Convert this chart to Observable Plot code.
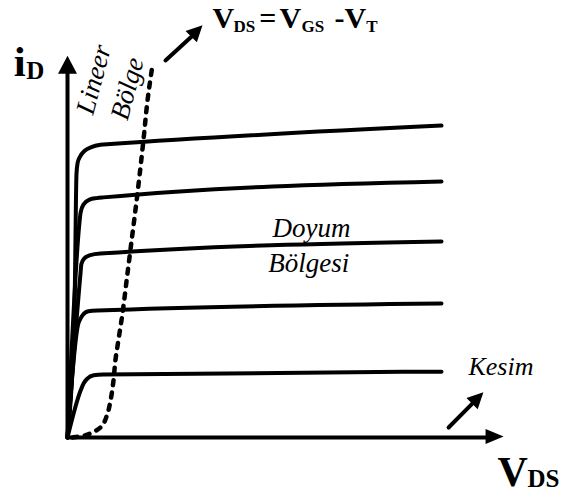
<!DOCTYPE html>
<html>
<head>
<meta charset="utf-8">
<script src="https://cdn.jsdelivr.net/npm/d3@7"></script>
<script src="https://cdn.jsdelivr.net/npm/@observablehq/plot@0.6"></script>
<style>
  html, body { margin: 0; padding: 0; background: #fff; }
</style>
</head>
<body>
<script>
// Output characteristic curves i_D vs V_DS (arbitrary units)
const curve1 = [[0,0],[0.19,3.70],[0.24,7.12],[0.27,7.42],[0.34,7.60],[0.46,7.75],[0.64,7.85],[0.88,7.91],[1.15,7.93],[10,8.43]];
const curve2 = [[0,0],[0.32,5.81],[0.35,6.08],[0.43,6.30],[0.59,6.43],[0.78,6.47],[0.96,6.49],[10,6.92]];
const curve3 = [[0,0],[0.35,4.46],[0.37,4.68],[0.45,4.84],[0.61,4.93],[0.88,4.97],[10,5.30]];
const curve4 = [[0,0],[0.29,3.08],[0.35,3.22],[0.40,3.30],[0.56,3.41],[0.80,3.43],[10,3.62]];
const curve5 = [[0,0],[0.35,1.27],[0.43,1.46],[0.53,1.59],[0.70,1.68],[0.96,1.70],[10,1.78]];
// Boundary V_DS = V_GS - V_T (dashed)
const boundary = [[0.13,0],[0.43,0.05],[0.67,0.14],[0.88,0.27],[1.07,0.65],[1.15,1.0],[1.23,1.54],[1.28,2.08],[1.36,2.62],[1.47,3.35],[1.58,4.24],[1.68,5.05],[1.87,6.59],[2.03,8.03],[2.14,9.11],[2.27,10.05]];
// Axes
const yAxisLine = [[0,0],[0,9.9]];
const xAxisLine = [[0,0],[11.25,0]];
const yAxisTip = [[0,10.32]];
const xAxisTip = [[11.66,0.03]];
// Pointer arrows
const topArrow = [[2.62,10.19],[3.32,10.84]];
const topArrowTip = [[3.61,11.14]];
const cutArrow = [[10.19,0.27],[10.83,0.92]];
const cutArrowTip = [[11.12,1.22]];

const curves = [curve1, curve2, curve3, curve4, curve5];

function poly(pts) {
  return { draw(ctx) { ctx.moveTo(pts[0][0], pts[0][1]); for (let i = 1; i < pts.length; i++) ctx.lineTo(pts[i][0], pts[i][1]); ctx.closePath(); } };
}
const headUp = poly([[0,0],[9.5,18],[-9.5,18]]);
const headRight = poly([[0,0],[-18,-7.5],[-18,7.5]]);
const headDiag = poly([[0,0],[-5.66,16.97],[-16.97,5.66]]);

const serif = "Liberation Serif, Times New Roman, serif";
const T = (data, opts) => Plot.text(data, {x: d => d[0], y: d => d[1], fontFamily: serif, fill: "black", lineAnchor: "bottom", textAnchor: "start", ...opts});

const plot = Plot.plot({
  width: 563,
  height: 500,
  margin: 0,
  style: { background: "#fff" },
  x: { domain: [0, 10], range: [67, 441], axis: null },
  y: { domain: [0, 10], range: [437, 67], axis: null },
  marks: [
    ...curves.map(c => Plot.line(c, { curve: "monotone-x", stroke: "black", strokeWidth: 4, strokeLinejoin: "round" })),
    Plot.line(boundary, { curve: "monotone-y", stroke: "black", strokeWidth: 4.5, strokeDasharray: "5,7.5", strokeLinecap: "round" }),
    Plot.line(yAxisLine, { stroke: "black", strokeWidth: 4 }),
    Plot.line(xAxisLine, { stroke: "black", strokeWidth: 4 }),
    Plot.dot(yAxisTip, { x: d => d[0], y: d => d[1], symbol: headUp, fill: "black", stroke: null }),
    Plot.dot(xAxisTip, { x: d => d[0], y: d => d[1], symbol: headRight, fill: "black", stroke: null }),
    Plot.line(topArrow, { stroke: "black", strokeWidth: 4, strokeLinecap: "round" }),
    Plot.dot(topArrowTip, { x: d => d[0], y: d => d[1], symbol: headDiag, fill: "black", stroke: null }),
    Plot.line(cutArrow, { stroke: "black", strokeWidth: 4, strokeLinecap: "round" }),
    Plot.dot(cutArrowTip, { x: d => d[0], y: d => d[1], symbol: headDiag, fill: "black", stroke: null }),
    // axis labels
    T([[-1.44, 9.78]], { text: () => "i", fontSize: 43, fontWeight: "bold" }),
    T([[-1.10, 9.70]], { text: () => "D", fontSize: 25, fontWeight: "bold" }),
    T([[11.50, -1.30]], { text: () => "V", fontSize: 42, fontWeight: "bold" }),
    T([[12.30, -1.35]], { text: () => "DS", fontSize: 25, fontWeight: "bold" }),
    // top formula
    T([[3.88, 11.08]], { text: () => "V", fontSize: 30, fontWeight: "bold" }),
    T([[4.44, 10.97]], { text: () => "DS", fontSize: 17, fontWeight: "bold" }),
    T([[5.13, 11.08]], { text: () => "=", fontSize: 30, fontWeight: "bold" }),
    T([[5.67, 11.08]], { text: () => "V", fontSize: 30, fontWeight: "bold" }),
    T([[6.26, 10.97]], { text: () => "GS", fontSize: 17, fontWeight: "bold" }),
    T([[7.14, 11.08]], { text: () => "-V", fontSize: 30, fontWeight: "bold" }),
    T([[7.99, 10.97]], { text: () => "T", fontSize: 17, fontWeight: "bold" }),
    // region labels
    T([[0.70, 9.68]], { text: () => "Lineer", fontSize: 27, fontStyle: "italic", rotate: -75, textAnchor: "middle", lineAnchor: "middle" }),
    T([[1.60, 9.43]], { text: () => "Bölge", fontSize: 27, fontStyle: "italic", rotate: -75, textAnchor: "middle", lineAnchor: "middle" }),
    T([[5.48, 5.43]], { text: () => "Doyum", fontSize: 27, fontStyle: "italic" }),
    T([[5.37, 4.46]], { text: () => "Bölgesi", fontSize: 27, fontStyle: "italic" }),
    T([[10.72, 1.68]], { text: () => "Kesim", fontSize: 26, fontStyle: "italic" })
  ]
});
document.body.appendChild(plot);
</script>
</body>
</html>
